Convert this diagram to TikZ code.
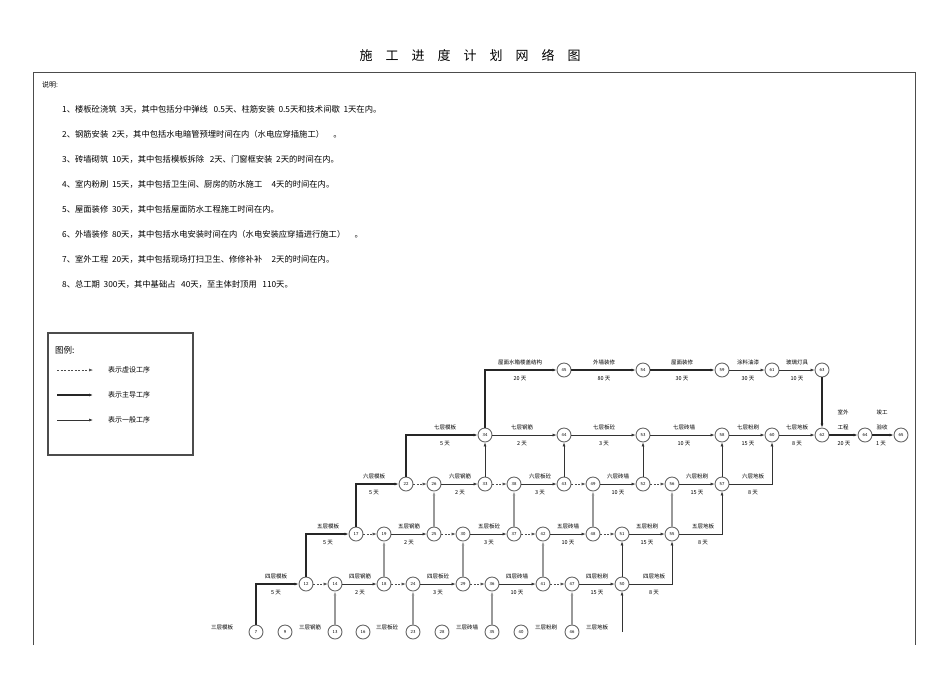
\documentclass[tikz,border=0pt]{standalone}
\usepackage{fontspec}
\setmainfont{Liberation Sans}
\newfontfamily\cjk{Noto Sans CJK SC}
\usetikzlibrary{arrows.meta}
\begin{document}
\begin{tikzpicture}[x=1pt,y=-1pt,font=\cjk,
  ev/.style={circle,draw=gray!80!black,line width=0.9pt,minimum size=14pt,inner sep=0pt,font=\fontsize{4.5}{5}\selectfont\sffamily},
  gen/.style={draw=black!80,line width=0.6pt,-{Latex[length=4pt,width=3pt]}},
  grayv/.style={draw=gray!80,line width=1.4pt,-{Latex[length=4pt,width=3pt]}},
  main/.style={draw=black!85,line width=1.3pt,-{Latex[length=4pt,width=3pt]}},
  dum/.style={draw=black!70,line width=0.5pt,dash pattern=on 2pt off 1.5pt,-{Latex[length=4pt,width=3pt]}},
  lab/.style={font=\cjk\fontsize{5.5}{6}\selectfont,inner sep=1pt},
  note/.style={font=\cjk\fontsize{8.3}{9}\selectfont,anchor=west,inner sep=0pt}]
\useasboundingbox (0,0) rectangle (950,673);
\node (title) at (470,55) {\fontsize{13}{15}\selectfont 施\hspace{13pt}工\hspace{13pt}进\hspace{13pt}度\hspace{13pt}计\hspace{13pt}划\hspace{13pt}网\hspace{13pt}络\hspace{13pt}图};
\draw[line width=1pt,black!70] (33,645) -- (33,72) -- (915,72) -- (915,645);
\node[note,font=\cjk\fontsize{7}{8}\selectfont] (sm) at (42,85) {说明:};
\foreach \t [count=\i] in {
 {1、楼板砼浇筑\ \ 3天，其中包括分中弹线\ \ \ 0.5天、柱筋安装\ \ 0.5天和技术间歇\ \ 1天在内。},
 {2、钢筋安装\ \ 2天，其中包括水电暗管预埋时间在内（水电应穿插施工）\ \ \ \ \ 。},
 {3、砖墙砌筑\ \ 10天，其中包括模板拆除\ \ \ 2天、门窗框安装\ \ 2天的时间在内。},
 {4、室内粉刷\ \ 15天，其中包括卫生间、厨房的防水施工\ \ \ \ \ 4天的时间在内。},
 {5、屋面装修\ \ 30天，其中包括屋面防水工程施工时间在内。},
 {6、外墙装修\ \ 80天，其中包括水电安装时间在内（水电安装应穿插进行施工）\ \ \ \ \ 。},
 {7、室外工程\ \ 20天，其中包括现场打扫卫生、修修补补\ \ \ \ \ 2天的时间在内。},
 {8、总工期\ \ 300天，其中基础占\ \ \ 40天，至主体封顶用\ \ \ 110天。}}
 \node[note] (n\i) at (62,84+25*\i) {\t};
% legend
\draw[line width=1.2pt,black!70] (48,333) rectangle (193,455);
\node[anchor=west,inner sep=0pt,font=\cjk\fontsize{8.5}{9}\selectfont] (lg) at (55,350) {图例:};
\coordinate (la1) at (57,370); \coordinate (lb1) at (93,370);
\coordinate (la2) at (57,395); \coordinate (lb2) at (93,395);
\coordinate (la3) at (57,420); \coordinate (lb3) at (93,420);
\draw[dum] (la1) -- (lb1); \draw[main] (la2) -- (lb2); \draw[gen] (la3) -- (lb3);
\node[note,font=\cjk\fontsize{7}{8}\selectfont] (lt1) at (108,370) {表示虚设工序};
\node[note,font=\cjk\fontsize{7}{8}\selectfont] (lt2) at (108,395) {表示主导工序};
\node[note,font=\cjk\fontsize{7}{8}\selectfont] (lt3) at (108,420) {表示一般工序};
% nodes
\foreach \n/\x/\y in {45/564/370,54/643/370,59/722/370,61/772/370,63/822/370,
 34/485/435,44/564/435,53/643/435,58/722/435,60/772/435,62/822/435,64/865/435,65/901/435,
 22/406/484,26/434/484,33/485/484,38/514/484,43/564/484,49/593/484,52/643/484,56/672/484,57/722/484,
 17/356/534,19/384/534,25/434/534,30/463/534,37/514/534,42/543/534,48/593/534,51/622/534,55/672/534,
 12/306/584,14/335/584,18/384/584,24/413/584,29/463/584,36/492/584,41/543/584,47/572/584,50/622/584,
 7/256/632,9/285/632,13/335/632,16/363/632,23/413/632,28/442/632,35/492/632,40/521/632,46/572/632}
 \node[ev] (e\n) at (\x,\y) {\n};
\coordinate (b50) at (622,632);
% labels helper
\newcommand\elab[4]{\node[lab] at (#1,#2) {#3}; \node[lab] at (#1,#2+17) {#4};}
% main ladder
\draw[main] (e7) |- (e12); \elab{276}{576}{四层模板}{5 天}
\draw[main] (e12) |- (e17); \elab{328}{526}{五层模板}{5 天}
\draw[main] (e17) |- (e22); \elab{374}{476}{六层模板}{5 天}
\draw[main] (e22) |- (e34); \elab{445}{427}{七层模板}{5 天}
\draw[main] (e34) |- (e45); \elab{520}{362}{屋面水箱楼盖结构}{20 天}
\draw[main] (e45) -- (e54); \elab{604}{362}{外墙装修}{80 天}
\draw[main] (e54) -- (e59); \elab{682}{362}{屋面装修}{30 天}
\draw[gen] (e59) -- (e61); \elab{748}{362}{涂料油漆}{30 天}
\draw[gen] (e61) -- (e63); \elab{797}{362}{玻璃灯具}{10 天}
\draw[main] (e63) -- (e62);
\draw[main] (e62) -- (e64); \node[lab] at (843,412) {室外}; \node[lab] at (843,427) {工程}; \node[lab] at (844,444) {20 天};
\draw[main] (e64) -- (e65); \node[lab] at (882,412) {竣工}; \node[lab] at (882,427) {验收}; \node[lab] at (881,444) {1 天};
% row 3 labels
\foreach \x/\t in {222/三层模板,310/三层钢筋,387/三层板砼,467/三层砖墙,546/三层粉刷,597/三层地板}
 \node[lab] at (\x,627) {\t};
% row3 -> row4
\draw[grayv] (e13) -- (e14); \draw[grayv] (e23) -- (e24); \draw[grayv] (e35) -- (e36); \draw[grayv] (e46) -- (e47);
\draw[gen] (b50) -- (e50);
% row 4
\draw[dum] (e12) -- (e14);
\draw[gen] (e14) -- (e18); \elab{360}{576}{四层钢筋}{2 天}
\draw[dum] (e18) -- (e24);
\draw[gen] (e24) -- (e29); \elab{438}{576}{四层板砼}{3 天}
\draw[dum] (e29) -- (e36);
\draw[gen] (e36) -- (e41); \elab{517}{576}{四层砖墙}{10 天}
\draw[dum] (e41) -- (e47);
\draw[gen] (e47) -- (e50); \elab{597}{576}{四层粉刷}{15 天}
\draw[gen] (e50) -| (e55); \elab{654}{576}{四层地板}{8 天}
% row4 -> row5
\draw[grayv] (e18) -- (e19); \draw[grayv] (e29) -- (e30); \draw[grayv] (e41) -- (e42); \draw[gen] (e50) -- (e51);
% row 5
\draw[dum] (e17) -- (e19);
\draw[gen] (e19) -- (e25); \elab{409}{526}{五层钢筋}{2 天}
\draw[dum] (e25) -- (e30);
\draw[gen] (e30) -- (e37); \elab{489}{526}{五层板砼}{3 天}
\draw[dum] (e37) -- (e42);
\draw[gen] (e42) -- (e48); \elab{568}{526}{五层砖墙}{10 天}
\draw[dum] (e48) -- (e51);
\draw[gen] (e51) -- (e55); \elab{647}{526}{五层粉刷}{15 天}
\draw[gen] (e55) -| (e57); \elab{703}{526}{五层地板}{8 天}
% row5 -> row6
\draw[grayv] (e25) -- (e26); \draw[grayv] (e37) -- (e38); \draw[grayv] (e48) -- (e49); \draw[grayv] (e55) -- (e56);
% row 6
\draw[dum] (e22) -- (e26);
\draw[gen] (e26) -- (e33); \elab{460}{476}{六层钢筋}{2 天}
\draw[dum] (e33) -- (e38);
\draw[gen] (e38) -- (e43); \elab{540}{476}{六层板砼}{3 天}
\draw[dum] (e43) -- (e49);
\draw[gen] (e49) -- (e52); \elab{618}{476}{六层砖墙}{10 天}
\draw[dum] (e52) -- (e56);
\draw[gen] (e56) -- (e57); \elab{697}{476}{六层粉刷}{15 天}
\draw[gen] (e57) -| (e60); \elab{753}{476}{六层地板}{8 天}
% row6 -> row7
\draw[gen] (e33) -- (e34); \draw[gen] (e43) -- (e44); \draw[gen] (e52) -- (e53); \draw[gen] (e57) -- (e58);
% row 7
\draw[gen] (e34) -- (e44); \elab{522}{427}{七层钢筋}{2 天}
\draw[gen] (e44) -- (e53); \elab{604}{427}{七层板砼}{3 天}
\draw[gen] (e53) -- (e58); \elab{684}{427}{七层砖墙}{10 天}
\draw[gen] (e58) -- (e60); \elab{748}{427}{七层粉刷}{15 天}
\draw[gen] (e60) -- (e62); \elab{797}{427}{七层地板}{8 天}
\end{tikzpicture}
\end{document}
